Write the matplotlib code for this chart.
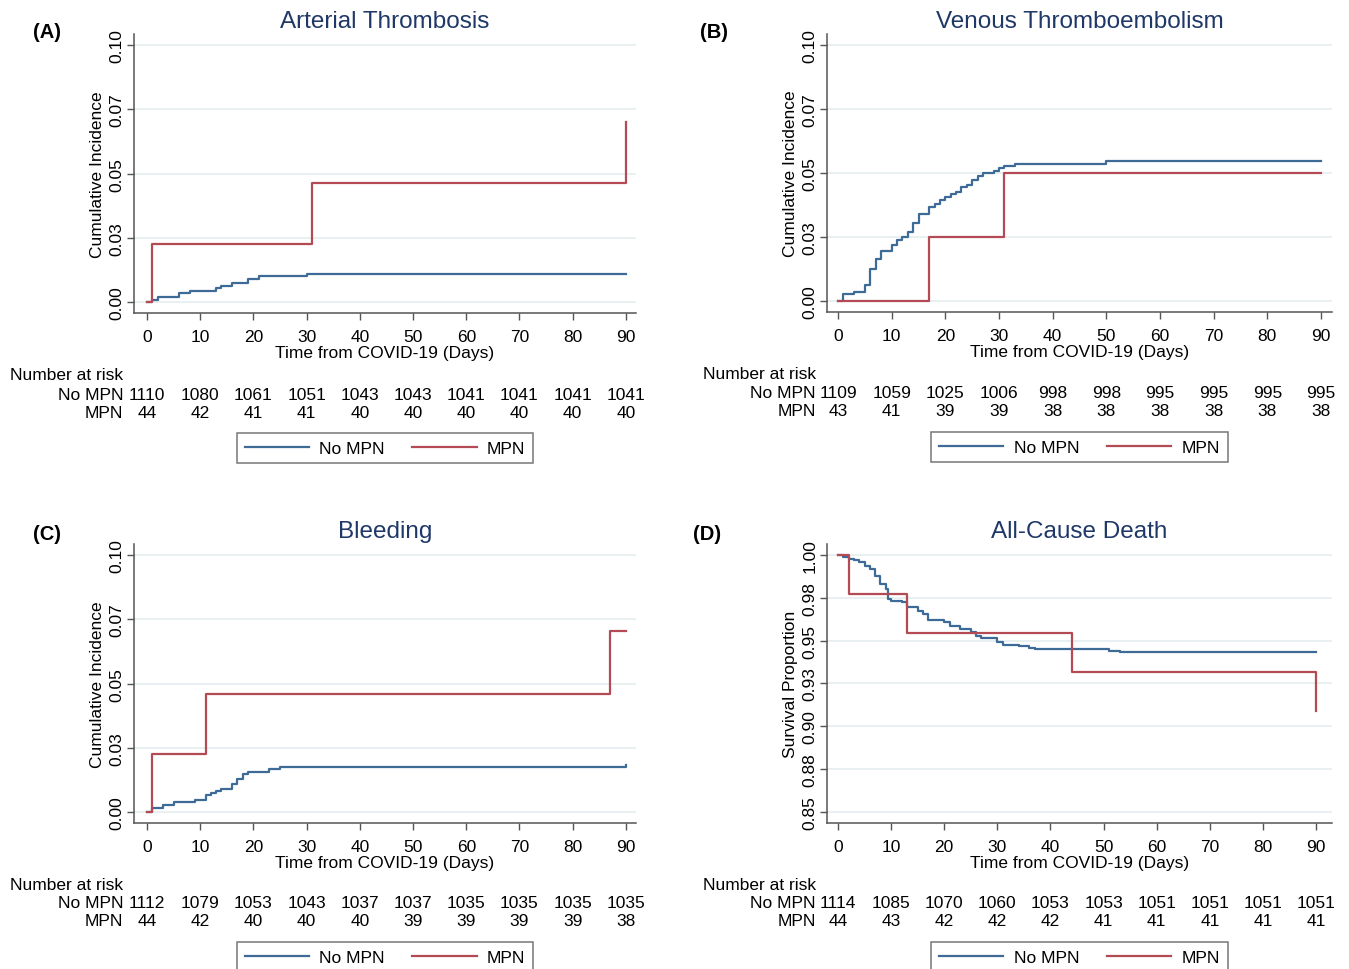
import matplotlib
matplotlib.use("Agg")
import matplotlib.pyplot as plt
import matplotlib.transforms as mtransforms
from matplotlib.lines import Line2D

plt.rcParams['font.family'] = ['Liberation Sans', 'DejaVu Sans']

W, H = 1349, 970

# ---- data ----
days = [0, 10, 20, 30, 40, 50, 60, 70, 80, 90]

# (A) Arterial thrombosis
a_nompn_t = [0, 1, 2, 6, 8, 13, 14, 16, 19, 21, 30, 90]
a_nompn_y = [0, 0.0009, 0.0019, 0.0036, 0.0045, 0.0054, 0.0063, 0.0073, 0.0091, 0.0101, 0.0109, 0.0109]
a_mpn_t = [0, 1, 31, 90]
a_mpn_y = [0, 0.0227, 0.0465, 0.0702]
a_risk_nompn = [1110, 1080, 1061, 1051, 1043, 1043, 1041, 1041, 1041, 1041]
a_risk_mpn = [44, 42, 41, 41, 40, 40, 40, 40, 40, 40]

# (B) Venous thromboembolism
b_nompn_t = [0, 1, 3, 5, 6, 7, 8, 10, 11, 12, 13, 14, 15, 17, 18, 19, 20, 21, 22, 23,
             24, 25, 26, 27, 29, 30, 31, 33, 50, 90]
b_nompn_y = [0, 0.0027, 0.0036, 0.0065, 0.0127, 0.0166, 0.0195, 0.0218, 0.0239, 0.0249,
             0.0270, 0.0305, 0.0341, 0.0367, 0.0379, 0.0397, 0.0407, 0.0418, 0.0425, 0.0444,
             0.0454, 0.0472, 0.0490, 0.0499, 0.0508, 0.0519, 0.0529, 0.0537, 0.0546, 0.0546]
b_mpn_t = [0, 17, 31, 90]
b_mpn_y = [0, 0.0249, 0.0499, 0.0499]
b_risk_nompn = [1109, 1059, 1025, 1006, 998, 998, 995, 995, 995, 995]
b_risk_mpn = [43, 41, 39, 39, 38, 38, 38, 38, 38, 38]

# (C) Bleeding
c_nompn_t = [0, 1, 3, 5, 9, 11, 12, 13, 14, 16, 17, 18, 19, 23, 25, 90]
c_nompn_y = [0, 0.0018, 0.0028, 0.0038, 0.0047, 0.0065, 0.0074, 0.0083, 0.0092, 0.0110,
             0.0130, 0.0148, 0.0158, 0.0167, 0.0176, 0.0184]
c_mpn_t = [0, 1, 11, 87, 90]
c_mpn_y = [0, 0.0227, 0.0461, 0.0705, 0.0705]
c_risk_nompn = [1112, 1079, 1053, 1043, 1037, 1037, 1035, 1035, 1035, 1035]
c_risk_mpn = [44, 42, 40, 40, 40, 39, 39, 39, 39, 38]

# (D) All-cause death
d_nompn_t = [0, 1, 2, 3, 4, 5, 6, 7, 8, 9, 9.5, 10, 12, 13, 15, 16, 17, 20, 21, 23, 25,
             26, 27, 30, 31, 34, 36, 37, 51, 53, 90]
d_nompn_y = [1.0, 0.9984, 0.9975, 0.9969, 0.9955, 0.9936, 0.9917, 0.9878, 0.9829, 0.9800,
             0.9742, 0.9732, 0.9722, 0.9693, 0.9674, 0.9655, 0.9622, 0.9606, 0.9583, 0.9567,
             0.9552, 0.9528, 0.9515, 0.9490, 0.9474, 0.9466, 0.9459, 0.9451, 0.9441, 0.9431,
             0.9431]
d_mpn_t = [0, 2, 13, 44, 90]
d_mpn_y = [1.0, 0.977, 0.9542, 0.9317, 0.9092]
d_risk_nompn = [1114, 1085, 1070, 1060, 1053, 1053, 1051, 1051, 1051, 1051]
d_risk_mpn = [44, 43, 42, 42, 42, 41, 41, 41, 41, 41]

inc_ticks = [0, 0.025, 0.05, 0.075, 0.10]
inc_labels = ['0.00', '0.03', '0.05', '0.07', '0.10']
surv_ticks = [0.85, 0.875, 0.90, 0.925, 0.95, 0.975, 1.00]
surv_labels = ['0.85', '0.88', '0.90', '0.93', '0.95', '0.98', '1.00']

BLUE = '#3d6a97'
RED = '#b44a53'
TITLE = '#1f3868'
GRID = '#e6eff1'
FS = 12.5

fig = plt.figure(figsize=(W / 100, H / 100), dpi=100)


def make_axes(l, t, r, b):
    return fig.add_axes([l / W, 1 - b / H, (r - l) / W, (b - t) / H])


def panel(box, letter, title, ylabel, nompn, mpn, yticks, ylabels, ylim, xlim,
          risk_nompn, risk_mpn, table_y, letter_xy):
    ax = make_axes(*box)
    ax.step(nompn[0], nompn[1], where='post', color=BLUE, lw=1.6)
    ax.step(mpn[0], mpn[1], where='post', color=RED, lw=1.6)
    ax.set_xlim(*xlim)
    ax.set_ylim(*ylim)
    ax.set_xticks(days)
    ax.set_yticks(yticks)
    ax.set_yticklabels(ylabels, rotation=90, va='center')
    ax.grid(axis='y', color=GRID, lw=1.3)
    ax.set_axisbelow(True)
    for s in ['top', 'right']:
        ax.spines[s].set_visible(False)
    for s in ['left', 'bottom']:
        ax.spines[s].set_color('#555555')
        ax.spines[s].set_linewidth(1.1)
    ax.tick_params(axis='both', labelsize=FS, length=5, color='#555555', width=1)
    ax.tick_params(axis='x', pad=6.5)
    ax.tick_params(axis='y', pad=2)
    ax.set_xlabel('Time from COVID-19 (Days)', fontsize=FS, labelpad=0.5)
    ax.set_ylabel(ylabel, fontsize=FS, labelpad=3)
    ax.set_title(title, fontsize=17.5, color=TITLE, pad=5)
    fig.text(letter_xy[0] / W, 1 - letter_xy[1] / H, letter, fontsize=14.5,
             fontweight='bold', ha='left', va='center')

    # number at risk table
    tr = mtransforms.blended_transform_factory(ax.transData, fig.transFigure)
    y0, y1, y2 = table_y
    fig.text((box[0] - 124) / W, 1 - y0 / H, 'Number at risk', fontsize=FS,
             ha='left', va='center')
    fig.text((box[0] - 11) / W, 1 - y1 / H, 'No MPN', fontsize=FS, ha='right', va='center')
    fig.text((box[0] - 11) / W, 1 - y2 / H, 'MPN', fontsize=FS, ha='right', va='center')
    for d, n1, n2 in zip(days, risk_nompn, risk_mpn):
        ax.text(d, 1 - y1 / H, str(n1), transform=tr, fontsize=FS, ha='center', va='center')
        ax.text(d, 1 - y2 / H, str(n2), transform=tr, fontsize=FS, ha='center', va='center')

    handles = [Line2D([], [], color=BLUE, lw=1.6), Line2D([], [], color=RED, lw=1.6)]
    leg = fig.legend(handles, ['No MPN', 'MPN'], ncol=2, fontsize=FS,
                     loc='upper center',
                     bbox_to_anchor=((box[0] + box[2]) / 2 / W, 1 - (y2 + 12) / H),
                     frameon=True, fancybox=False, handlelength=3.7,
                     handletextpad=0.6, columnspacing=1.6, borderpad=0.45)
    leg.get_frame().set_edgecolor('#555555')
    leg.get_frame().set_linewidth(1.1)
    return ax


inc_ylim_top = (-0.0042, 0.1043)
surv_ylim = (0.8438, 1.0062)

panel((134, 35, 636, 314), '(A)', 'Arterial Thrombosis', 'Cumulative Incidence',
      (a_nompn_t, a_nompn_y), (a_mpn_t, a_mpn_y), inc_ticks, inc_labels,
      inc_ylim_top, (-2.44, 91.9), a_risk_nompn, a_risk_mpn, (376, 395, 413), (33, 32))

panel((827, 35, 1332, 313), '(B)', 'Venous Thromboembolism', 'Cumulative Incidence',
      (b_nompn_t, b_nompn_y), (b_mpn_t, b_mpn_y), inc_ticks, inc_labels,
      inc_ylim_top, (-2.05, 92.05), b_risk_nompn, b_risk_mpn, (375, 394, 412), (700, 32))

panel((134, 545, 636, 824), '(C)', 'Bleeding', 'Cumulative Incidence',
      (c_nompn_t, c_nompn_y), (c_mpn_t, c_mpn_y), inc_ticks, inc_labels,
      inc_ylim_top, (-2.44, 91.9), c_risk_nompn, c_risk_mpn, (886, 904, 922), (33, 535))

panel((827, 545, 1332, 824), '(D)', 'All-Cause Death', 'Survival Proportion',
      (d_nompn_t, d_nompn_y), (d_mpn_t, d_mpn_y), surv_ticks, surv_labels,
      surv_ylim, (-2.07, 93.0), d_risk_nompn, d_risk_mpn, (886, 904, 922), (693, 535))

fig.savefig('out.png', dpi=100, facecolor='white')
